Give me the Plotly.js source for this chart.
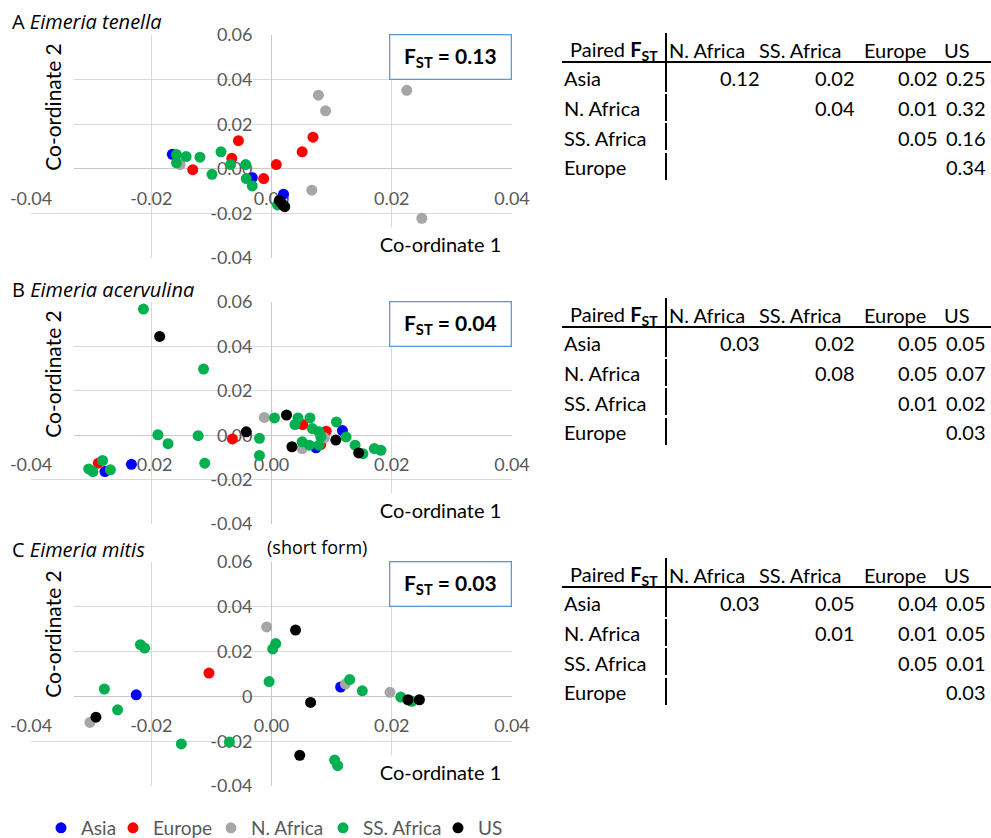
<!DOCTYPE html>
<html><head><meta charset="utf-8">
<script src="https://cdn.plot.ly/plotly-3.0.1.min.js"></script>
<style>html,body{margin:0;padding:0;background:#fff;} #chart{width:991px;height:838px;}</style>
</head><body><div id="chart"></div>
<script>
// ---------- DATA ----------
const groups = ['Asia', 'Europe', 'N. Africa', 'SS. Africa', 'US'];
const groupColors = ['#0000FF', '#FF0000', '#A6A6A6', '#00B050', '#000000'];
const panelLetters = ['A', 'B', 'C'];
const speciesNames = ['Eimeria tenella', 'Eimeria acervulina', 'Eimeria mitis'];
const overallFst = ['0.13', '0.04', '0.03'];

const xTickVals = [-0.04, -0.02, 0, 0.02, 0.04];
const xTickText = ['-0.04', '-0.02', '0.00', '0.02', '0.04'];
const yTickVals = [-0.04, -0.02, 0, 0.02, 0.04, 0.06];
const yTickTextAB = ['-0.04', '-0.02', '0.00', '0.02', '0.04', '0.06'];
const yTickTextC = ['-0.04', '-0.02', '0', '0.02', '0.04', '0.06'];

// Panel A: Eimeria tenella  [co-ordinate 1, co-ordinate 2]
const tenellaAsia = [[-0.0165, 0.0065], [-0.0032, -0.0040], [0.0020, -0.0114]];
const tenellaEurope = [[-0.0055, 0.0126], [-0.0066, 0.0047], [-0.0131, -0.0004], [-0.0013, -0.0044], [0.0008, 0.0019], [0.0051, 0.0076], [0.0069, 0.0142]];
const tenellaNAfrica = [[-0.0152, 0.0019], [0.0078, 0.0330], [0.0090, 0.0260], [0.0067, -0.0096], [0.0225, 0.0352], [0.0250, -0.0222]];
const tenellaSSAfrica = [[-0.0158, 0.0064], [-0.0158, 0.0027], [-0.0142, 0.0055], [-0.0119, 0.0052], [-0.0099, -0.0025], [-0.0084, 0.0076], [-0.0068, 0.0019], [-0.0043, 0.0019], [-0.0042, -0.0044], [-0.0032, -0.0077], [0.0010, -0.0162]];
const tenellaUS = [[0.0013, -0.0142], [0.0016, -0.0152], [0.0019, -0.0162], [0.0022, -0.0170]];

// Panel B: Eimeria acervulina
const acervulinaAsia = [[-0.0277, -0.0164], [-0.0233, -0.0131], [0.0074, -0.0057], [0.0118, 0.0021]];
const acervulinaEurope = [[-0.0288, -0.0126], [-0.0065, -0.0017], [0.0052, 0.0048], [0.0091, 0.0018], [0.0082, -0.0042]];
const acervulinaNAfrica = [[-0.0012, 0.0080], [0.0088, -0.0012], [0.0051, -0.0060]];
const acervulinaSSAfrica = [[-0.0213, 0.0568], [-0.0113, 0.0298], [-0.0189, 0.0002], [-0.0172, -0.0038], [-0.0122, -0.0002], [-0.0111, -0.0126], [-0.0020, -0.0014], [-0.0020, -0.0091], [0.0005, 0.0078], [0.0044, 0.0078], [0.0064, 0.0078], [0.0039, 0.0048], [0.0068, 0.0030], [0.0079, 0.0015], [0.0082, -0.0008], [0.0079, -0.0045], [0.0063, -0.0045], [0.0051, -0.0030], [0.0108, 0.0060], [0.0124, -0.0008], [0.0139, -0.0045], [0.0152, -0.0083], [0.0171, -0.0060], [0.0182, -0.0068], [-0.0304, -0.0152], [-0.0297, -0.0164], [-0.0281, -0.0114], [-0.0268, -0.0156]];
const acervulinaUS = [[-0.0186, 0.0445], [-0.0042, 0.0015], [0.0025, 0.0091], [0.0034, -0.0052], [0.0107, -0.0022], [0.0145, -0.0080]];

// Panel C: Eimeria mitis (short form)
const mitisAsia = [[-0.0225, 0.0007], [0.0115, 0.0042]];
const mitisEurope = [[-0.0104, 0.0104]];
const mitisNAfrica = [[-0.0302, -0.0116], [-0.0008, 0.0310], [0.0123, 0.0055], [0.0197, 0.0018]];
const mitisSSAfrica = [[-0.0278, 0.0033], [-0.0256, -0.0060], [-0.0218, 0.0231], [-0.0211, 0.0216], [-0.0150, -0.0212], [-0.0070, -0.0204], [0.0002, 0.0212], [0.0007, 0.0236], [-0.0004, 0.0066], [0.0105, -0.0284], [0.0110, -0.0309], [0.0130, 0.0075], [0.0151, 0.0025], [0.0215, -0.0003], [0.0233, -0.0022]];
const mitisUS = [[-0.0292, -0.0093], [0.0040, 0.0296], [0.0065, -0.0027], [0.0047, -0.0263], [0.0227, -0.0015], [0.0246, -0.0015]];

// Paired FST tables (upper triangle, null = empty)
const tableCols = ['N. Africa', 'SS. Africa', 'Europe', 'US'];
const tableRows = ['Asia', 'N. Africa', 'SS. Africa', 'Europe'];
const tenellaPaired = [[0.12, 0.02, 0.02, 0.25], [null, 0.04, 0.01, 0.32], [null, null, 0.05, 0.16], [null, null, null, 0.34]];
const acervulinaPaired = [[0.03, 0.02, 0.05, 0.05], [null, 0.08, 0.05, 0.07], [null, null, 0.01, 0.02], [null, null, null, 0.03]];
const mitisPaired = [[0.03, 0.05, 0.04, 0.05], [null, 0.01, 0.01, 0.05], [null, null, 0.05, 0.01], [null, null, null, 0.03]];

// ---------- BUILD ----------
const panelData = [
  [tenellaAsia, tenellaEurope, tenellaNAfrica, tenellaSSAfrica, tenellaUS],
  [acervulinaAsia, acervulinaEurope, acervulinaNAfrica, acervulinaSSAfrica, acervulinaUS],
  [mitisAsia, mitisEurope, mitisNAfrica, mitisSSAfrica, mitisUS]
];
const pairedTables = [tenellaPaired, acervulinaPaired, mitisPaired];

const W = 991, H = 838;
const FONT = 'Lato, "Open Sans", sans-serif';
const TITLE_FONT = '"Open Sans", Lato, sans-serif';
const fx = p => p / W;
const fy = p => 1 - p / H;

const plotLeft = 31, plotRight = 512;
const plotTops = [35, 302, 562];
const plotBottoms = [258, 524, 786];
const tableOffsets = [0, 265, 525];
const legendLeft = [41, 113, 211, 323, 438];
const legendIds = ['legend', 'legend2', 'legend3', 'legend4', 'legend5'];

const traces = [];
const layout = {
  width: W, height: H,
  margin: {l: 0, r: 0, t: 0, b: 0, autoexpand: false},
  paper_bgcolor: '#ffffff', plot_bgcolor: '#ffffff',
  font: {family: FONT, size: 18, color: '#000000'},
  showlegend: true,
  annotations: [], shapes: []
};
legendIds.forEach((id, g) => {
  layout[id] = {orientation: 'h', x: fx(legendLeft[g]), xanchor: 'left', y: fy(828), yanchor: 'middle',
    font: {family: FONT, size: 19, color: '#595959'}, bgcolor: 'rgba(0,0,0,0)', itemwidth: 30};
});

for (let p = 0; p < 3; p++) {
  const sfx = p === 0 ? '' : String(p + 1);
  const yb = fy(plotBottoms[p]), yt = fy(plotTops[p]);
  const xl = fx(plotLeft), xr = fx(plotRight);
  const zeroY = yb + (0 - (-0.04)) / 0.10 * (yt - yb);
  const zeroX = xl + 0.5 * (xr - xl);
  const tickFont = {family: FONT, size: 18, color: '#595959'};
  layout['xaxis' + sfx] = {
    domain: [xl, xr], range: [-0.04, 0.04], anchor: 'free', position: zeroY,
    tickvals: xTickVals, ticktext: xTickText, tickfont: tickFont,
    showgrid: true, gridcolor: '#d9d9d9', gridwidth: 1,
    zeroline: true, zerolinecolor: '#c8c8c8', zerolinewidth: 1,
    showline: false, ticks: '', ticklabelstandoff: 17, layer: 'below traces', fixedrange: true
  };
  layout['yaxis' + sfx] = {
    domain: [yb, yt], range: [-0.04, 0.06], anchor: 'free', position: zeroX,
    tickvals: yTickVals, ticktext: p === 2 ? yTickTextC : yTickTextAB, tickfont: tickFont,
    showgrid: true, gridcolor: '#d9d9d9', gridwidth: 1,
    zeroline: true, zerolinecolor: '#c8c8c8', zerolinewidth: 1,
    showline: false, ticks: '', ticklabelstandoff: 19, layer: 'below traces', fixedrange: true
  };
  panelData[p].forEach((pts, g) => {
    traces.push({
      type: 'scatter', mode: 'markers', name: groups[g], legendgroup: groups[g],
      legend: legendIds[g], showlegend: p === 0,
      x: pts.map(d => d[0]), y: pts.map(d => d[1]),
      xaxis: 'x' + sfx, yaxis: 'y' + sfx,
      marker: {color: groupColors[g], size: 11, line: {width: 0}},
      hoverinfo: 'skip'
    });
  });

  const top = plotTops[p], bot = plotBottoms[p];
  // panel title
  layout.annotations.push({xref: 'paper', yref: 'paper', x: fx(10), y: fy(top - 13), xanchor: 'left', yanchor: 'middle',
    text: panelLetters[p] + ' <i>' + speciesNames[p] + '</i>', showarrow: false,
    font: {family: TITLE_FONT, size: 20, color: '#000'}});
  // y axis title with white box
  layout.annotations.push({xref: 'paper', yref: 'paper', x: fx(51.5), y: fy(top + 72), xanchor: 'center', yanchor: 'middle',
    text: 'Co-ordinate 2', textangle: -90, showarrow: false, width: 145, height: 41, bgcolor: '#ffffff',
    font: {family: FONT, size: 21, color: '#000'}});
  // x axis title with white box
  layout.annotations.push({xref: 'paper', yref: 'paper', x: fx(440), y: fy(bot - 14), xanchor: 'center', yanchor: 'middle',
    text: 'Co-ordinate 1', showarrow: false, width: 147, height: 30, bgcolor: '#ffffff',
    font: {family: FONT, size: 20, color: '#000'}});
  // overall FST box
  layout.annotations.push({xref: 'paper', yref: 'paper', x: fx(450.5), y: fy(top + 22), xanchor: 'center', yanchor: 'middle',
    text: '<b>F<sub>ST</sub> = ' + overallFst[p] + '</b>', showarrow: false, width: 118, height: 41,
    bgcolor: '#ffffff', bordercolor: '#5B9BD5', borderwidth: 1.3,
    font: {family: FONT, size: 21, color: '#000'}});

  // ---------- table ----------
  const dy = tableOffsets[p];
  const colLeft = [667, 757, 862, 942];
  const valRight = [762, 857, 940, 988];
  const rowY = [78, 108, 138, 167];
  const tFont = {family: FONT, size: 20, color: '#000'};
  layout.annotations.push({xref: 'paper', yref: 'paper', x: fx(660), y: fy(50 + dy), xanchor: 'right', yanchor: 'middle',
    text: 'Paired <b>F<sub>ST</sub></b>', showarrow: false, font: tFont});
  tableCols.forEach((c, j) => layout.annotations.push({xref: 'paper', yref: 'paper', x: fx(colLeft[j]), y: fy(50 + dy),
    xanchor: 'left', yanchor: 'middle', text: c, showarrow: false, font: tFont}));
  tableRows.forEach((r, i) => {
    layout.annotations.push({xref: 'paper', yref: 'paper', x: fx(562), y: fy(rowY[i] + dy), xanchor: 'left', yanchor: 'middle',
      text: r, showarrow: false, font: tFont});
    pairedTables[p][i].forEach((v, j) => {
      if (v === null) return;
      layout.annotations.push({xref: 'paper', yref: 'paper', x: fx(valRight[j]), y: fy(rowY[i] + dy), xanchor: 'right', yanchor: 'middle',
        text: v.toFixed(2), showarrow: false, font: tFont});
    });
  });
  layout.shapes.push({type: 'line', xref: 'paper', yref: 'paper', x0: fx(562), x1: fx(991), y0: fy(62 + dy), y1: fy(62 + dy),
    line: {color: '#000', width: 2}});
  [[33, 92], [94, 121], [123, 150], [153, 180]].forEach(s => layout.shapes.push({type: 'line', xref: 'paper', yref: 'paper',
    x0: fx(666), x1: fx(666), y0: fy(s[0] + dy), y1: fy(s[1] + dy), line: {color: '#000', width: 2}}));
}
// "(short form)" label
layout.annotations.push({xref: 'paper', yref: 'paper', x: fx(317), y: fy(547), xanchor: 'center', yanchor: 'middle',
  text: '(short form)', showarrow: false, font: {family: TITLE_FONT, size: 18, color: '#000'}});

Plotly.newPlot('chart', traces, layout, {staticPlot: true, displayModeBar: false});
</script></body></html>
